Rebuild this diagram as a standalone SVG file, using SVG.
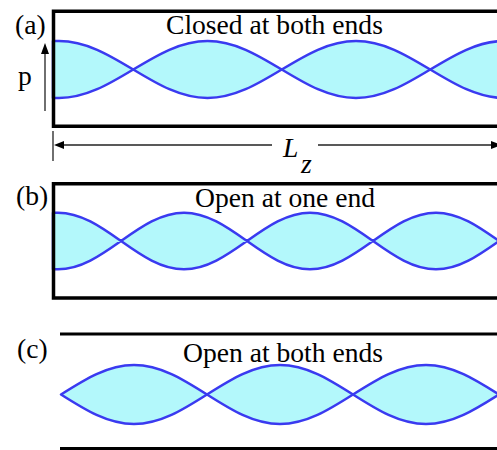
<svg xmlns="http://www.w3.org/2000/svg" width="497" height="450" viewBox="0 0 497 450">
<style>
.box{fill:none;stroke:#000;stroke-width:3.5}
.wave{fill:#b3f8fb;stroke:#3a3af0;stroke-width:2.5;stroke-linejoin:round}
.lbl{font-family:"Liberation Serif","Times New Roman",serif;font-size:27.6px;fill:#000}
.dim{stroke:#222;stroke-width:1.3;fill:none}
.head{fill:#000}
</style>
<rect width="497" height="450" fill="#fff"/>
<g id="panel-a">
<path class="wave" d="M53,41 L59,41 C85.87,41 109.04,54.9 133.25,69.5 C157.46,84.1 180.63,98 207.5,98 C234.37,98 257.54,84.1 281.75,69.5 C305.96,54.9 329.13,41 356,41 C382.87,41 406.04,54.9 430.25,69.5 C454.46,84.1 477.63,98 504.5,98 L504.5,41 C477.63,41 454.46,54.9 430.25,69.5 C406.04,84.1 382.87,98 356,98 C329.13,98 305.96,84.1 281.75,69.5 C257.54,54.9 234.37,41 207.5,41 C180.63,41 157.46,54.9 133.25,69.5 C109.04,84.1 85.87,98 59,98 L53,98 Z"/>
<path class="box" d="M500,11.3 H53.5 V126.3 H500"/>
<text class="lbl" x="15" y="34">(a)</text>
<text class="lbl" x="166" y="34">Closed at both ends</text>
<text class="lbl" x="18" y="85">p</text>
<line class="dim" x1="45" y1="111" x2="45" y2="52"/>
<polygon class="head" points="45,43 41,54 49,54"/>
</g>
<g id="dimension">
<line class="dim" x1="53" y1="131" x2="53" y2="161"/>
<line class="dim" x1="60" y1="145" x2="272" y2="145"/>
<line class="dim" x1="318" y1="145" x2="495" y2="145"/>
<polygon class="head" points="54,145 64,141 64,149"/>
<polygon class="head" points="502,145 491,141 491,149"/>
<text class="lbl" x="283" y="156.5" font-style="italic">L</text>
<text class="lbl" x="301" y="173" font-style="italic" font-size="22">z</text>
</g>
<g id="panel-b">
<path class="wave" d="M53,212.7 L58,212.7 C80.8,212.7 100.46,226.5 121,241 C141.54,255.5 161.2,269.3 184,269.3 C206.8,269.3 226.46,255.5 247,241 C267.54,226.5 287.2,212.7 310,212.7 C332.8,212.7 352.46,226.5 373,241 C393.54,255.5 413.2,269.3 436,269.3 C458.8,269.3 478.46,255.5 499,241 C478.46,226.5 458.8,212.7 436,212.7 C413.2,212.7 393.54,226.5 373,241 C352.46,255.5 332.8,269.3 310,269.3 C287.2,269.3 267.54,255.5 247,241 C226.46,226.5 206.8,212.7 184,212.7 C161.2,212.7 141.54,226.5 121,241 C100.46,255.5 80.8,269.3 58,269.3 L53,269.3 Z"/>
<path class="box" d="M500,183.7 H53.5 V298 H500"/>
<text class="lbl" x="16" y="204.5">(b)</text>
<text class="lbl" x="195" y="206.5">Open at one end</text>
</g>
<g id="panel-c">
<line x1="60" y1="334" x2="500" y2="334" stroke="#000" stroke-width="3.2"/>
<line x1="60" y1="448.5" x2="500" y2="448.5" stroke="#000" stroke-width="3"/>
<path class="wave" d="M61,394.5 C84.81,379.4 107.58,365 134,365 C160.42,365 183.19,379.4 207,394.5 C230.81,409.6 253.58,424 280,424 C306.42,424 329.19,409.6 353,394.5 C376.81,379.4 399.58,365 426,365 C452.42,365 475.19,379.4 499,394.5 C475.19,409.6 452.42,424 426,424 C399.58,424 376.81,409.6 353,394.5 C329.19,379.4 306.42,365 280,365 C253.58,365 230.81,379.4 207,394.5 C183.19,409.6 160.42,424 134,424 C107.58,424 84.81,409.6 61,394.5 Z"/>
<text class="lbl" x="17" y="358.3">(c)</text>
<text class="lbl" x="183" y="361.5">Open at both ends</text>
</g>
</svg>
